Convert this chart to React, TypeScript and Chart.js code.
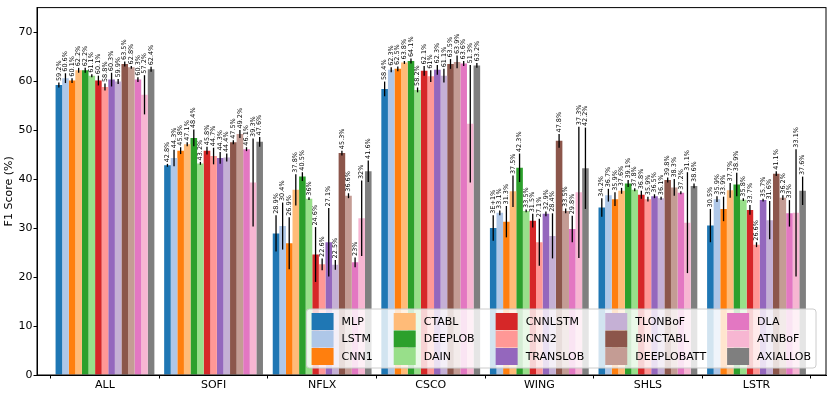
import React, { useEffect, useRef } from 'react';
import { Chart, registerables } from 'chart.js';

Chart.register(...registerables);

const CATEGORIES = ['ALL', 'SOFI', 'NFLX', 'CSCO', 'WING', 'SHLS', 'LSTR'];
const MODELS = ['MLP', 'LSTM', 'CNN1', 'CTABL', 'DEEPLOB', 'DAIN', 'CNNLSTM', 'CNN2', 'TRANSLOB', 'TLONBoF', 'BINCTABL', 'DEEPLOBATT', 'DLA', 'ATNBoF', 'AXIALLOB'];
const COLORS = ['#1f77b4', '#aec7e8', '#ff7f0e', '#ffbb78', '#2ca02c', '#98df8a', '#d62728', '#ff9896', '#9467bd', '#c5b0d5', '#8c564b', '#c49c94', '#e377c2', '#f7b6d2', '#7f7f7f'];
const Y_TICKS = [0, 10, 20, 30, 40, 50, 60, 70];

// F1 means (%) per model, in CATEGORIES order
const MLP_F1 = [59.2, 42.8, 28.9, 58.4, 30.0, 34.2, 30.5];
const LSTM_F1 = [60.6, 44.3, 30.4, 62.3, 33.1, 36.7, 35.9];
const CNN1_F1 = [60.1, 45.8, 26.9, 62.5, 31.3, 35.9, 33.9];
const CTABL_F1 = [62.2, 47.1, 37.8, 63.8, 37.5, 37.6, 37.7];
const DEEPLOB_F1 = [62.2, 48.4, 40.5, 64.1, 42.3, 39.1, 38.9];
const DAIN_F1 = [61.1, 43.2, 36.0, 58.2, 33.5, 37.8, 35.8];
const CNNLSTM_F1 = [60.1, 45.8, 24.6, 62.1, 31.5, 36.8, 33.7];
const CNN2_F1 = [58.8, 44.7, 22.6, 61.0, 27.1, 35.9, 26.6];
const TRANSLOB_F1 = [60.3, 44.3, 27.1, 62.3, 32.9, 36.5, 35.7];
const TLONBOF_F1 = [59.9, 44.4, 22.5, 61.1, 28.4, 36.1, 31.6];
const BINCTABL_F1 = [63.5, 47.5, 45.3, 63.5, 47.8, 39.8, 41.1];
const DEEPLOBATT_F1 = [62.8, 49.2, 36.6, 63.9, 33.5, 38.3, 36.2];
const DLA_F1 = [60.3, 46.1, 23.0, 63.6, 29.8, 37.2, 33.0];
const ATNBOF_F1 = [57.2, 39.3, 32.0, 51.3, 37.3, 31.1, 33.1];
const AXIALLOB_F1 = [62.4, 47.6, 41.6, 63.2, 42.2, 38.6, 37.6];

// standard deviations (error bars)
const MLP_STD = [0.5, 0.3, 3.7, 1.5, 2.6, 1.9, 3.4];
const LSTM_STD = [1.0, 1.7, 4.8, 0.5, 0.5, 1.3, 0.6];
const CNN1_STD = [0.5, 0.7, 5.3, 0.5, 3.2, 1.4, 2.5];
const CTABL_STD = [0.5, 0.4, 3.2, 0.3, 3.2, 0.6, 1.5];
const DEEPLOB_STD = [0.5, 1.7, 0.9, 0.5, 2.9, 0.7, 2.4];
const DAIN_STD = [0.3, 0.3, 0.3, 0.5, 0.3, 0.3, 0.3];
const CNNLSTM_STD = [1.0, 0.8, 5.6, 1.0, 1.4, 0.8, 1.0];
const CNN2_STD = [0.7, 1.7, 1.2, 1.2, 4.8, 0.5, 0.5];
const TRANSLOB_STD = [1.4, 1.2, 7.0, 1.0, 0.5, 0.4, 0.3];
const TLONBOF_STD = [0.5, 0.8, 1.0, 1.4, 4.6, 0.3, 3.9];
const BINCTABL_STD = [0.5, 0.4, 0.5, 1.0, 1.4, 0.5, 0.5];
const DEEPLOBATT_STD = [0.3, 0.8, 0.5, 1.3, 0.5, 1.7, 0.5];
const DLA_STD = [0.5, 0.4, 1.0, 0.5, 2.7, 0.3, 2.7];
const ATNBOF_STD = [4.0, 9.0, 7.7, 12.0, 13.4, 10.3, 13.0];
const AXIALLOB_STD = [0.5, 1.0, 2.2, 0.5, 8.3, 0.5, 2.9];

const MEANS = [MLP_F1, LSTM_F1, CNN1_F1, CTABL_F1, DEEPLOB_F1, DAIN_F1, CNNLSTM_F1, CNN2_F1, TRANSLOB_F1, TLONBOF_F1, BINCTABL_F1, DEEPLOBATT_F1, DLA_F1, ATNBOF_F1, AXIALLOB_F1];
const STDS = [MLP_STD, LSTM_STD, CNN1_STD, CTABL_STD, DEEPLOB_STD, DAIN_STD, CNNLSTM_STD, CNN2_STD, TRANSLOB_STD, TLONBOF_STD, BINCTABL_STD, DEEPLOBATT_STD, DLA_STD, ATNBOF_STD, AXIALLOB_STD];

const FONT = "'DejaVu Sans', sans-serif";

function labelText(v: number): string {
  if (v === 30) return '3E+1%';
  return String(Number(v.toPrecision(3))) + '%';
}

const errorBarPlugin = {
  id: 'errorBars',
  afterDatasetsDraw(chart: any) {
    const ctx = chart.ctx;
    const ys = chart.scales.y;
    chart.data.datasets.forEach((ds: any, di: number) => {
      const meta = chart.getDatasetMeta(di);
      meta.data.forEach((bar: any, i: number) => {
        const m = MEANS[di][i];
        const s = STDS[di][i];
        const yt = ys.getPixelForValue(m + s);
        const yb = ys.getPixelForValue(m - s);
        ctx.save();
        ctx.strokeStyle = '#000';
        ctx.lineWidth = 1.3;
        ctx.beginPath();
        ctx.moveTo(bar.x, yt);
        ctx.lineTo(bar.x, yb);
        ctx.stroke();
        ctx.translate(bar.x, yt - 1.5);
        ctx.rotate(-Math.PI / 2);
        ctx.fillStyle = '#000';
        ctx.font = `6.5px ${FONT}`;
        ctx.textAlign = 'left';
        ctx.textBaseline = 'middle';
        ctx.fillText(labelText(m), 0, 0);
        ctx.restore();
      });
    });
  },
};

const framePlugin = {
  id: 'frame',
  afterDraw(chart: any) {
    const { ctx, chartArea } = chart;
    ctx.save();
    ctx.strokeStyle = '#000';
    ctx.lineWidth = 1;
    ctx.strokeRect(chartArea.left, chartArea.top, chartArea.right - chartArea.left, chartArea.bottom - chartArea.top);
    ctx.restore();
  },
};

const legendPlugin = {
  id: 'mplLegend',
  afterDraw(chart: any) {
    const { ctx, chartArea } = chart;
    const ds = chart.data.datasets;
    const rows = 3;
    const cols = Math.ceil(ds.length / rows);
    const fs = 11;
    const patchW = 22;
    const patchH = 17;
    const gap = 8;
    const colSpace = 21;
    const pad = 5;
    const rowH = 17.5;
    ctx.save();
    ctx.font = `${fs}px ${FONT}`;
    const colW: number[] = [];
    for (let c = 0; c < cols; c++) {
      let mw = 0;
      for (let r = 0; r < rows; r++) {
        const idx = c * rows + r;
        if (idx < ds.length) mw = Math.max(mw, ctx.measureText(ds[idx].label).width);
      }
      colW.push(patchW + gap + mw);
    }
    const totalW = pad * 2 + colW.reduce((a, b) => a + b, 0) + colSpace * (cols - 1);
    const totalH = 59;
    const right = chartArea.right - 10;
    const bottom = chartArea.bottom - 7;
    const left = right - totalW;
    const top = bottom - totalH;
    const rad = 3;
    ctx.beginPath();
    ctx.moveTo(left + rad, top);
    ctx.lineTo(right - rad, top);
    ctx.quadraticCurveTo(right, top, right, top + rad);
    ctx.lineTo(right, bottom - rad);
    ctx.quadraticCurveTo(right, bottom, right - rad, bottom);
    ctx.lineTo(left + rad, bottom);
    ctx.quadraticCurveTo(left, bottom, left, bottom - rad);
    ctx.lineTo(left, top + rad);
    ctx.quadraticCurveTo(left, top, left + rad, top);
    ctx.closePath();
    ctx.fillStyle = 'rgba(255,255,255,0.8)';
    ctx.fill();
    ctx.strokeStyle = '#cccccc';
    ctx.lineWidth = 1;
    ctx.stroke();
    let x = left + pad;
    const y0 = top + 4;
    for (let c = 0; c < cols; c++) {
      for (let r = 0; r < rows; r++) {
        const idx = c * rows + r;
        if (idx >= ds.length) continue;
        const yy = y0 + r * rowH;
        ctx.fillStyle = ds[idx].backgroundColor;
        ctx.fillRect(x, yy, patchW, patchH);
        ctx.fillStyle = '#000';
        ctx.textAlign = 'left';
        ctx.textBaseline = 'middle';
        ctx.fillText(ds[idx].label, x + patchW + gap, yy + patchH / 2 + 0.5);
      }
      x += colW[c] + colSpace;
    }
    ctx.restore();
  },
};

export default function App() {
  const ref = useRef<HTMLCanvasElement | null>(null);
  useEffect(() => {
    document.body.style.margin = '0';
    const canvas = ref.current;
    if (!canvas) return;
    const datasets = MODELS.map((name, di) => ({
      label: name,
      data: CATEGORIES.map((_, i) => ({ x: i, y: MEANS[di][i] })),
      backgroundColor: COLORS[di],
      borderWidth: 0,
      categoryPercentage: 0.91,
      barPercentage: 1.0,
    }));
    const chart = new Chart(canvas, {
      type: 'bar',
      data: { datasets },
      plugins: [errorBarPlugin, framePlugin, legendPlugin],
      options: {
        animation: false,
        responsive: false,
        maintainAspectRatio: false,
        devicePixelRatio: 1,
        layout: { padding: { left: 0, top: 6, right: 4, bottom: 0 } },
        plugins: {
          legend: { display: false },
          tooltip: { enabled: false },
        },
        scales: {
          x: {
            type: 'linear',
            min: -0.626,
            max: 6.64,
            offset: false,
            afterBuildTicks: (scale: any) => {
              scale.ticks = CATEGORIES.map((_, i) => ({ value: i }));
            },
            afterFit: (scale: any) => {
              scale.height = 21;
            },
            ticks: {
              autoSkip: false,
              maxRotation: 0,
              padding: 0,
              color: '#000',
              font: { family: FONT, size: 11 },
              callback: (v: any) => CATEGORIES[Math.round(Number(v))] ?? '',
            },
            grid: { display: true, drawOnChartArea: false, drawTicks: true, tickLength: 3.5, color: '#000' },
            border: { display: true, color: '#000' },
          },
          y: {
            type: 'linear',
            min: 0,
            max: 75,
            afterBuildTicks: (scale: any) => {
              scale.ticks = Y_TICKS.map((v) => ({ value: v }));
            },
            afterFit: (scale: any) => {
              scale.width = 37;
            },
            ticks: {
              padding: 1,
              color: '#000',
              font: { family: FONT, size: 11 },
            },
            title: {
              display: true,
              text: 'F1 Score (%)',
              color: '#000',
              font: { family: FONT, size: 11 },
              padding: { top: 3, bottom: 0 },
            },
            grid: { display: true, drawOnChartArea: false, drawTicks: true, tickLength: 3.5, color: '#000' },
            border: { display: true, color: '#000' },
          },
        },
      },
    } as any);
    return () => chart.destroy();
  }, []);
  return (
    <div style={{ position: 'absolute', left: 0, top: 0, width: 830, height: 396 }}>
      <canvas ref={ref} width={830} height={396} style={{ display: 'block', width: 830, height: 396 }} />
    </div>
  );
}
